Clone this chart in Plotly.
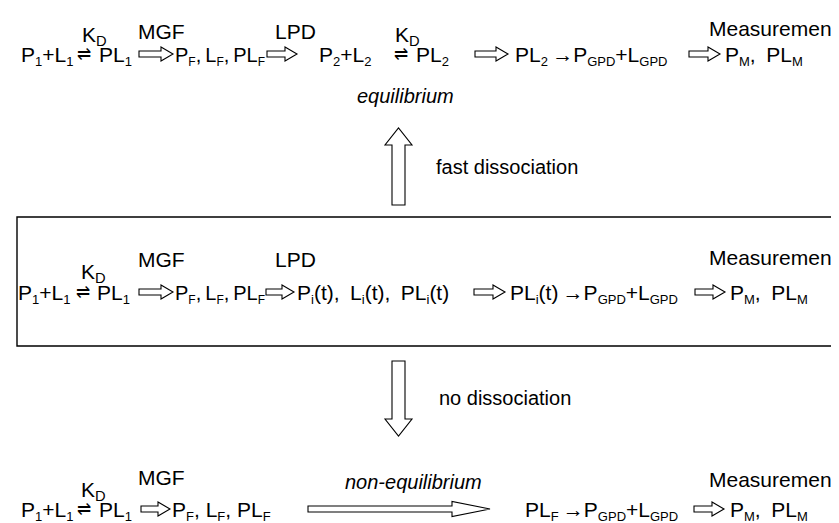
import plotly.graph_objects as go

W, H = 839, 523
FONT = "Liberation Sans, Arial, Helvetica, sans-serif"
FS = 21      # main reaction rows
FL = 21      # labels above rows


def sb(s, px=13):
    return f"<sub><span style='font-size:{px}px'>{s}</span></sub>"


EQ = "⇌"
TS = "\u2009"   # thin space
ES = "\u2002"   # en space
# ---- text content (data) ----
pf_compact = f"P{sb('F', 12)},{TS}L{sb('F', 12)},{TS}PL{sb('F', 12)}"
pm_text = f"P{sb('M')},{ES}PL{sb('M')}"
row1_texts = [f"P{sb(1)}+L{sb(1)}", EQ, f"PL{sb(1)}", pf_compact,
              f"P{sb(2)}+L{sb(2)}", EQ, f"PL{sb(2)}",
              f"PL{sb(2)}{TS}→P{sb('GPD')}+L{sb('GPD')}",
              pm_text]
row2_texts = [f"P{sb(1)}+L{sb(1)}", EQ, f"PL{sb(1)}", pf_compact,
              f"P{sb('i')}(t),{ES}L{sb('i')}(t),{ES}PL{sb('i')}(t)",
              f"PL{sb('i')}(t){TS}→P{sb('GPD')}+L{sb('GPD')}",
              pm_text]
row3_texts = [f"P{sb(1)}+L{sb(1)}", EQ, f"PL{sb(1)}",
              f"P{sb('F')}, L{sb('F')}, PL{sb('F')}",
              f"PL{sb('F')}{TS}→P{sb('GPD')}+L{sb('GPD')}",
              pm_text]
row1_sizes = [FS, 17, FS, 20, FS, 17, FS, FS, FS]
row2_sizes = [FS, 17, FS, 20, FS, FS, FS]
row3_sizes = [FS, 17, FS, FS, FS, FS]
row1_labels = ["K<sub>D</sub>", "MGF", "LPD", "K<sub>D</sub>"]
row2_labels = ["K<sub>D</sub>", "MGF", "LPD"]
row3_labels = ["K<sub>D</sub>", "MGF"]
measure_label = "Measurement"
side_labels = ["fast dissociation", "no dissociation"]
italic_labels = ["equilibrium", "non-equilibrium"]

# ---- layout positions (pixels, origin top-left) ----
row_y = [48, 286, 503]
row1_x = [12, 76, 90, 166, 310, 393, 407, 506, 716]
row2_x = [9, 75, 88, 166, 288, 501, 721]
row3_x = [12, 76, 90, 163, 516, 721]
row1_label_xy = [(86, 28), (153, 23), (287, 23), (399, 28)]
row2_label_xy = [(85, 265), (153, 251), (287, 251)]
row3_label_xy = [(85, 483), (153, 469)]
measure_xy = [(765, 20), (765, 249), (765, 471)]
row1_arrows = [(131, 165), (259, 289), (467, 500), (681, 712)]
row2_arrows = [(131, 165), (258, 286), (466, 497), (687, 717)]
row3_arrows = [(133, 162), (686, 716)]
long_arrow = (300, 482)
up_arrow = (390.5, 197, 120)
down_arrow = (390.5, 353, 428)
side_xy = [(427, 159), (430, 390)]
italic_xy = [(397, 88), (405, 474)]
box = (9, 209, 860, 338)

annotations = []
shapes = []


def txt(x, y, s, anchor="left", size=FS):
    annotations.append(dict(x=x, y=y, xref="x", yref="y", text=s, showarrow=False,
                            xanchor=anchor, yanchor="middle", borderpad=0,
                            font=dict(family=FONT, size=size, color="black")))


def hollow_arrow_h(x0, x1, y, sh=3, hh=7, hl=12):
    xh = x1 - hl
    p = (f"M {x0},{y-sh} L {xh},{y-sh} L {xh},{y-hh} L {x1},{y} L {xh},{y+hh} "
         f"L {xh},{y+sh} L {x0},{y+sh} Z")
    shapes.append(dict(type="path", path=p, xref="x", yref="y",
                       line=dict(color="black", width=1.1), fillcolor="white"))


def hollow_arrow_v(xc, y_start, y_tip, sw=6.5, hw=13.5, hl=17):
    d = 1 if y_tip > y_start else -1
    yb = y_tip - d * hl
    p = (f"M {xc-sw},{y_start} L {xc-sw},{yb} L {xc-hw},{yb} L {xc},{y_tip} "
         f"L {xc+hw},{yb} L {xc+sw},{yb} L {xc+sw},{y_start} Z")
    shapes.append(dict(type="path", path=p, xref="x", yref="y",
                       line=dict(color="black", width=1.1), fillcolor="white"))


for texts, xs, sizes, y in [(row1_texts, row1_x, row1_sizes, row_y[0]),
                            (row2_texts, row2_x, row2_sizes, row_y[1]),
                            (row3_texts, row3_x, row3_sizes, row_y[2])]:
    for s, x, sz in zip(texts, xs, sizes):
        if s == EQ:
            txt(x, y - 2, s, anchor="center", size=sz)
        else:
            txt(x, y, s, size=sz)

for labels, xy in [(row1_labels, row1_label_xy), (row2_labels, row2_label_xy),
                   (row3_labels, row3_label_xy)]:
    for s, (x, y) in zip(labels, xy):
        txt(x, y, s, anchor="center", size=FL)

for x, y in measure_xy:
    txt(x, y, measure_label, anchor="center", size=FL)

for arrows, y in [(row1_arrows, row_y[0] - 2), (row2_arrows, row_y[1] - 2),
                  (row3_arrows, row_y[2] - 2)]:
    for x0, x1 in arrows:
        hollow_arrow_h(x0, x1, y)

hollow_arrow_h(long_arrow[0], long_arrow[1], row_y[2] - 2, sh=3, hh=7.5, hl=38)

hollow_arrow_v(*up_arrow)
hollow_arrow_v(*down_arrow)

txt(side_xy[0][0], side_xy[0][1], side_labels[0], size=20)
txt(side_xy[1][0], side_xy[1][1], side_labels[1], size=20)
txt(italic_xy[0][0], italic_xy[0][1], f"<i>{italic_labels[0]}</i>", anchor="center", size=20)
txt(italic_xy[1][0], italic_xy[1][1], f"<i>{italic_labels[1]}</i>", anchor="center", size=20)

shapes.append(dict(type="rect", x0=box[0], y0=box[1], x1=box[2], y1=box[3],
                   xref="x", yref="y", line=dict(color="black", width=1.4),
                   fillcolor="rgba(0,0,0,0)"))

fig = go.Figure()
fig.update_layout(width=W, height=H, margin=dict(l=0, r=0, t=0, b=0),
                  paper_bgcolor="white", plot_bgcolor="white",
                  xaxis=dict(range=[0, W], visible=False, fixedrange=True),
                  yaxis=dict(range=[H, 0], visible=False, fixedrange=True),
                  annotations=annotations, shapes=shapes, showlegend=False)

fig.write_html("out.html")
